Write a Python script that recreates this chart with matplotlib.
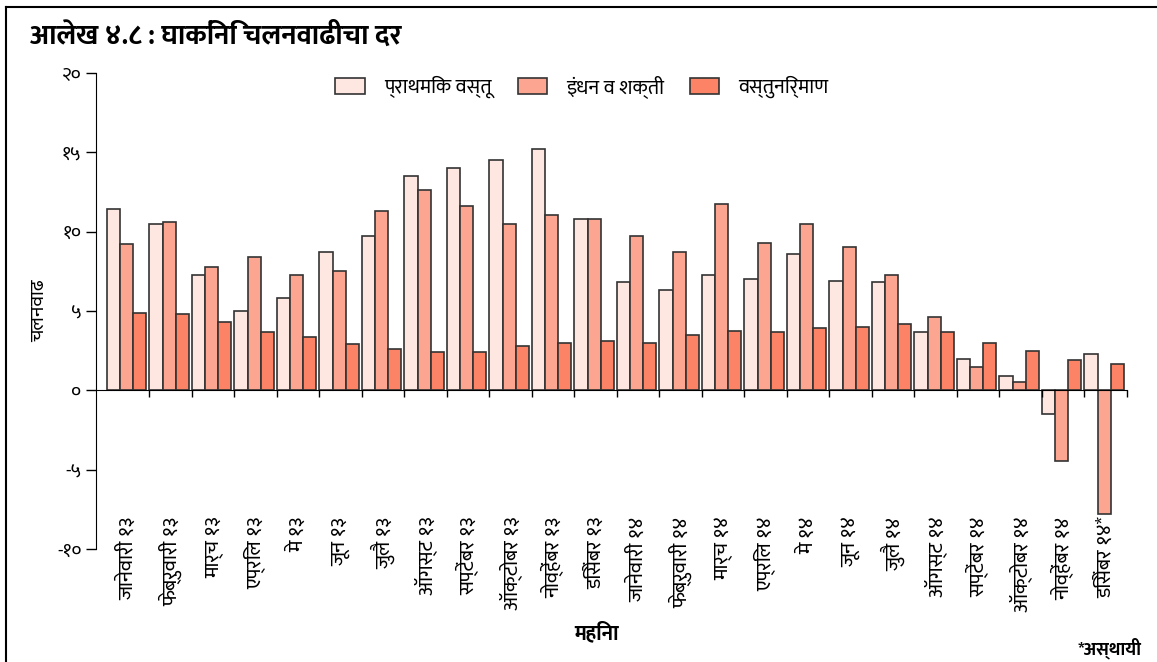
import matplotlib
matplotlib.use('Agg')
import matplotlib.pyplot as plt
import matplotlib.font_manager as fm
from matplotlib.ft2font import FT2Font
import numpy as np

# pick an installed font that covers Devanagari letters and digits and has a bold face
deva = {}
for f in fm.fontManager.ttflist:
    try:
        cm = FT2Font(f.fname).get_charmap()
        if 0x0915 in cm and 0x0967 in cm:
            deva.setdefault(f.name, set()).add(f.weight)
    except Exception:
        pass
bold_ok = [n for n, ws in deva.items() if any(int(w) >= 600 for w in ws if str(w).isdigit())]
pick = [n for n in ['Noto Sans Devanagari', 'Mukta', 'Hind', 'Yantramanav'] if n in bold_ok]
if not pick:
    pick = sorted(bold_ok)[:1] or sorted(deva)[:1]
plt.rcParams['font.family'] = pick[:1] + ['DejaVu Sans']

months = ['जानेवारी १३', 'फेब्रुवारी १३', 'मार्च १३', 'एप्रिल १३', 'मे १३', 'जून १३',
          'जुलै १३', 'ऑगस्ट १३', 'सप्टेंबर १३', 'ऑक्टोबर १३', 'नोव्हेंबर १३', 'डिसेंबर १३',
          'जानेवारी १४', 'फेब्रुवारी १४', 'मार्च १४', 'एप्रिल १४', 'मे १४', 'जून १४',
          'जुलै १४', 'ऑगस्ट १४', 'सप्टेंबर १४', 'ऑक्टोबर १४', 'नोव्हेंबर १४', 'डिसेंबर १४*']
primary = [11.45, 10.5, 7.3, 5.03, 5.8, 8.7, 9.7, 13.5, 14.0, 14.5, 15.2, 10.8,
           6.8, 6.3, 7.3, 7.0, 8.6, 6.9, 6.8, 3.65, 2.0, 0.9, -1.5, 2.26]
fuel = [9.25, 10.6, 7.75, 8.4, 7.3, 7.55, 11.3, 12.6, 11.6, 10.5, 11.07, 10.8,
        9.75, 8.74, 11.76, 9.3, 10.5, 9.06, 7.3, 4.6, 1.45, 0.5, -4.47, -7.8]
manuf = [4.9, 4.84, 4.28, 3.65, 3.33, 2.9, 2.58, 2.39, 2.39, 2.77, 2.96, 3.08,
         2.96, 3.46, 3.77, 3.65, 3.9, 4.0, 4.15, 3.65, 2.96, 2.5, 1.9, 1.64]
series_names = ['प्राथमिक वस्तू', 'इंधन व शक्ती', 'वस्तुनिर्माण']
colors = ['#fee6e1', '#fca590', '#fc8366']
yticks = [-10, -5, 0, 5, 10, 15, 20]
ytick_labels = ['-१०', '-५', '०', '५', '१०', '१५', '२०']

fig = plt.figure(figsize=(11.57, 6.62), dpi=100)
ax = fig.add_axes([96 / 1157, 1 - 549 / 662, (1128 - 96) / 1157, (549 - 73) / 662])

x = np.arange(len(months))
w = 0.31
for k, (vals, name, c) in enumerate(zip([primary, fuel, manuf], series_names, colors)):
    ax.bar(x - 0.34 + k * w, vals, width=w, color=c, edgecolor='#333333', linewidth=1.2, label=name)

ax.set_xlim(-0.75, 23.53)
ax.set_ylim(-10, 20)
ax.spines['top'].set_visible(False)
ax.spines['right'].set_visible(False)
ax.spines['bottom'].set_position(('data', 0))
ax.spines['bottom'].set_bounds(-0.75, 23.5)
ax.set_xticks(np.arange(0.5, 24, 1))
ax.set_xticklabels([])
ax.tick_params(axis='x', direction='out', length=5, width=1)
ax.set_yticks(yticks)
ax.set_yticklabels(ytick_labels, fontsize=14)
ax.tick_params(axis='y', direction='out', length=7, width=1)

for i, m in enumerate(months):
    ax.text(i, -7.95, m, rotation=90, ha='center', va='top', fontsize=15)

ax.set_ylabel('चलनवाढ', fontsize=14)
ax.yaxis.set_label_coords(-0.047, 0.5)
fig.text(597 / 1157, 1 - 634 / 662, 'महिना', ha='center', va='center', fontsize=15, fontweight='bold')
fig.text(1142 / 1157, 1 - 648 / 662, '*अस्थायी', ha='right', va='center', fontsize=13, fontweight='bold')
fig.text(30 / 1157, 1 - 37 / 662, 'आलेख ४.८ : घाकिंनि चलनवाढीचा दर', ha='left', va='center',
         fontsize=20, fontweight='bold')

ax.legend(loc='upper center', bbox_to_anchor=(0.471, 1.034), ncol=3, frameon=False, fontsize=14.5,
          handlelength=1.45, handleheight=0.85, columnspacing=1.3, handletextpad=0.95)

fig.add_artist(plt.Line2D([6 / 1157, 6 / 1157], [0, 1 - 7 / 662], color='black', lw=1.5))
fig.add_artist(plt.Line2D([6 / 1157, 1], [1 - 7 / 662, 1 - 7 / 662], color='black', lw=1.5))

fig.savefig('out.png', dpi=100)
